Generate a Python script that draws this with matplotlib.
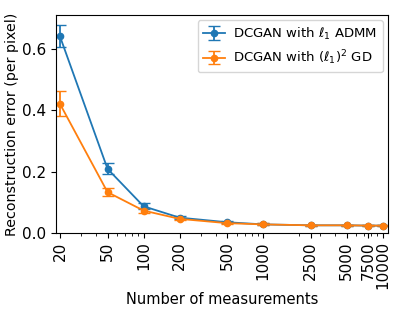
import matplotlib
matplotlib.use('Agg')
import matplotlib.pyplot as plt
from matplotlib.ticker import FixedLocator, FixedFormatter

measurements = [20, 50, 100, 200, 500, 1000, 2500, 5000, 7500, 10000]
tick_labels = ['20', '50', '100', '200', '500', '1000', '2500', '5000', '7500', '10000']

admm_err = [0.641, 0.209, 0.087, 0.050, 0.035, 0.028, 0.025, 0.025, 0.024, 0.024]
admm_std = [0.036, 0.018, 0.010, 0.005, 0.004, 0.003, 0.002, 0.002, 0.002, 0.002]

gd_err = [0.421, 0.133, 0.073, 0.046, 0.032, 0.028, 0.025, 0.025, 0.024, 0.024]
gd_std = [0.040, 0.013, 0.008, 0.004, 0.003, 0.003, 0.002, 0.002, 0.002, 0.002]

fig, ax = plt.subplots(figsize=(3.99, 3.14), dpi=100)

ax.errorbar(measurements, admm_err, yerr=admm_std, color='#1f77b4', marker='o',
            markersize=4.5, capsize=4, linewidth=1.3, label=r'DCGAN with $\ell_1$ ADMM')
ax.errorbar(measurements, gd_err, yerr=gd_std, color='#ff7f0e', marker='o',
            markersize=4.5, capsize=4, linewidth=1.3, label=r'DCGAN with $(\ell_1)^2$ GD')

ax.set_xscale('log')
ax.set_xlim(18.5, 11000)
ax.set_ylim(0, 0.71)
ax.xaxis.set_major_locator(FixedLocator(measurements))
ax.xaxis.set_major_formatter(FixedFormatter(tick_labels))
ax.set_yticks([0.0, 0.2, 0.4, 0.6])
ax.tick_params(axis='x', labelrotation=90, labelsize=11, pad=2.5)
ax.tick_params(axis='y', labelsize=11)

ax.set_xlabel('Number of measurements', fontsize=10.5, labelpad=2)
ax.set_ylabel('Reconstruction error (per pixel)', fontsize=10.3, labelpad=2)
ax.legend(loc='upper right', fontsize=9.5, handlelength=1.7, handletextpad=0.6,
          borderaxespad=0.4)

fig.subplots_adjust(left=0.14, right=0.972, top=0.952, bottom=0.258)
fig.savefig('out.png', dpi=100)
